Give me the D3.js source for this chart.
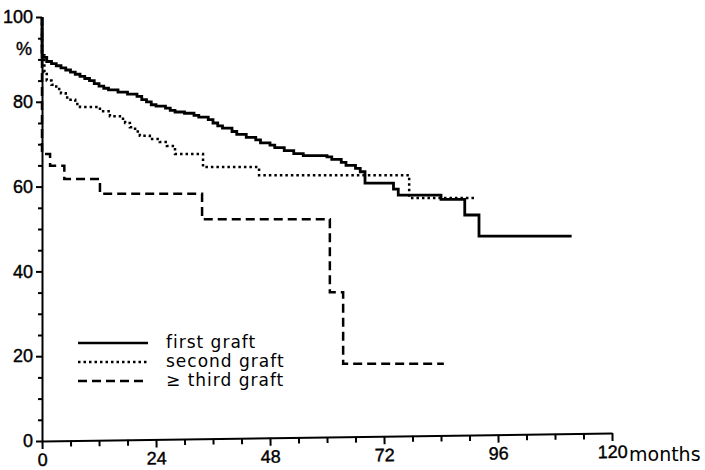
<!DOCTYPE html>
<html>
<head>
<meta charset="utf-8">
<script src="https://cdn.jsdelivr.net/npm/d3@7"></script>
<style>
  body { margin: 0; background: #fff; }
  svg { display: block; }
  .axis path, .axis line { stroke: #000; stroke-width: 2; }
</style>
</head>
<body>
<div id="chart"></div>
<script>
(function(){
  // chart size
  const width = 705;
  const height = 470;

  // Kaplan-Meier style curves: months and survival (%)
  const firstMonths = [0, 0, 1, 2, 3, 4, 5, 6, 7, 8, 9, 10, 11, 12, 13, 14, 16, 18, 20, 21, 22, 23, 24, 26, 27, 28, 30, 32, 33, 35, 36, 37, 38, 40, 41, 43, 45, 46, 48, 49, 51, 53, 55, 60, 61, 63, 64, 66, 67, 68, 74, 75, 84, 89, 92, 111.5];
  const firstSurv   = [100, 90.5, 89.5, 89, 88.5, 88, 87.5, 87, 86.5, 86, 85.5, 85, 84.3, 83.7, 83.2, 82.8, 82.3, 81.8, 81.3, 80.5, 80, 79.3, 79, 78.5, 78, 77.6, 77.3, 76.8, 76.4, 75.8, 75, 74.3, 73.8, 73, 72.3, 71.6, 71, 70.3, 69.8, 69.2, 68.5, 67.8, 67.3, 67, 66.4, 65.7, 65, 64.3, 63.5, 60.8, 59.4, 58, 57, 53.3, 48.3, 48.3];

  const secondMonths = [0, 0, 0.5, 1, 2, 3, 4, 5, 6, 7, 8, 12.2, 14.3, 16.4, 17.5, 18.5, 19.6, 20.6, 22.7, 24.8, 26.3, 28, 33.9, 45.7, 77.3, 91];
  const secondSurv   = [100, 91, 87, 85, 84, 83, 82, 81, 80.5, 79.5, 78.8, 77.8, 76.6, 76, 75, 74, 73, 72, 71.2, 70.5, 69.6, 67.7, 64.6, 62.7, 57.3, 57.3];

  const thirdMonths = [0, 0, 1.7, 4.7, 12.2, 33.7, 60.6, 63.4, 84.6];
  const thirdSurv   = [100, 67.7, 64.9, 61.8, 58.3, 52.3, 35.1, 18.2, 18.2];

  const seriesNames = ["first graft", "second graft", "\u2265 third graft"];
  const seriesDash = ["none", "2.5,3", "9,5"];

  const xTicks = [0, 24, 48, 72, 96, 120];
  const yTicks = [0, 20, 40, 60, 80, 100];

  const tickFont = "Liberation Sans, Arial, sans-serif";

  const svg = d3.select("#chart").append("svg")
    .attr("width", width)
    .attr("height", height);

  const x = d3.scaleLinear().domain([0, 120]).range([42, 612]);
  const y = d3.scaleLinear().domain([0, 100]).range([441, 17]);

  function styleLabels(sel) {
    sel.style("font-family", tickFont)
      .style("font-size", "18px")
      .style("fill", "#000")
      .style("stroke", "#000")
      .style("stroke-width", "0.4px");
  }

  // x axis (slightly tilted, as in the scan)
  const xAxis = svg.append("g")
    .attr("class", "axis")
    .attr("transform", `translate(0,${y(0)}) rotate(-0.8, ${x(0)}, 0)`)
    .call(d3.axisBottom(x)
      .tickValues(d3.range(0, 121, 6))
      .tickSizeOuter(0)
      .tickFormat(d => xTicks.includes(d) ? d : ""));
  xAxis.selectAll(".tick line").attr("y2", d => xTicks.includes(d) ? 8 : 6);
  xAxis.selectAll(".tick text").attr("y", 25).attr("dy", null).call(styleLabels);

  svg.append("text")
    .attr("x", 629)
    .attr("y", 461)
    .style("font-family", "DejaVu Sans, sans-serif")
    .style("font-size", "19px")
    .text("months");

  // y axis
  const yAxis = svg.append("g")
    .attr("class", "axis")
    .attr("transform", `translate(${x(0)},0)`)
    .call(d3.axisLeft(y)
      .tickValues(d3.range(0, 101, 5))
      .tickSizeOuter(0)
      .tickFormat(d => yTicks.includes(d) ? d : ""));
  yAxis.selectAll(".tick line").attr("x2", d => yTicks.includes(d) ? -6 : -4);
  yAxis.selectAll(".tick text").attr("x", -9).call(styleLabels);

  svg.append("text")
    .attr("x", 24)
    .attr("y", 55)
    .attr("text-anchor", "middle")
    .call(styleLabels)
    .text("%");

  // curves
  const line = d3.line()
    .x(d => x(d[0]))
    .y(d => y(d[1]))
    .curve(d3.curveStepAfter);

  const curves = [
    d3.zip(firstMonths, firstSurv),
    d3.zip(secondMonths, secondSurv),
    d3.zip(thirdMonths, thirdSurv)
  ];

  svg.append("g")
    .selectAll("path")
    .data(curves)
    .join("path")
    .attr("d", line)
    .attr("fill", "none")
    .attr("stroke", "#000")
    .attr("stroke-width", (d, i) => i === 0 ? 2.8 : 2.5)
    .attr("stroke-dasharray", (d, i) => seriesDash[i]);

  // legend
  const legend = svg.append("g").attr("class", "legend");
  const rows = legend.selectAll("g")
    .data(seriesNames)
    .join("g")
    .attr("transform", (d, i) => `translate(78,${343 + i * 19})`);
  rows.append("line")
    .attr("x1", 0).attr("x2", 70)
    .attr("stroke", "#000")
    .attr("stroke-width", 2.5)
    .attr("stroke-dasharray", (d, i) => seriesDash[i]);
  rows.append("text")
    .attr("x", 88)
    .attr("y", 5)
    .style("font-family", "DejaVu Sans, sans-serif")
    .style("font-size", "17px")
    .style("letter-spacing", "1px")
    .style("fill", "#000")
    .text(d => d);
})();
</script>
</body>
</html>
